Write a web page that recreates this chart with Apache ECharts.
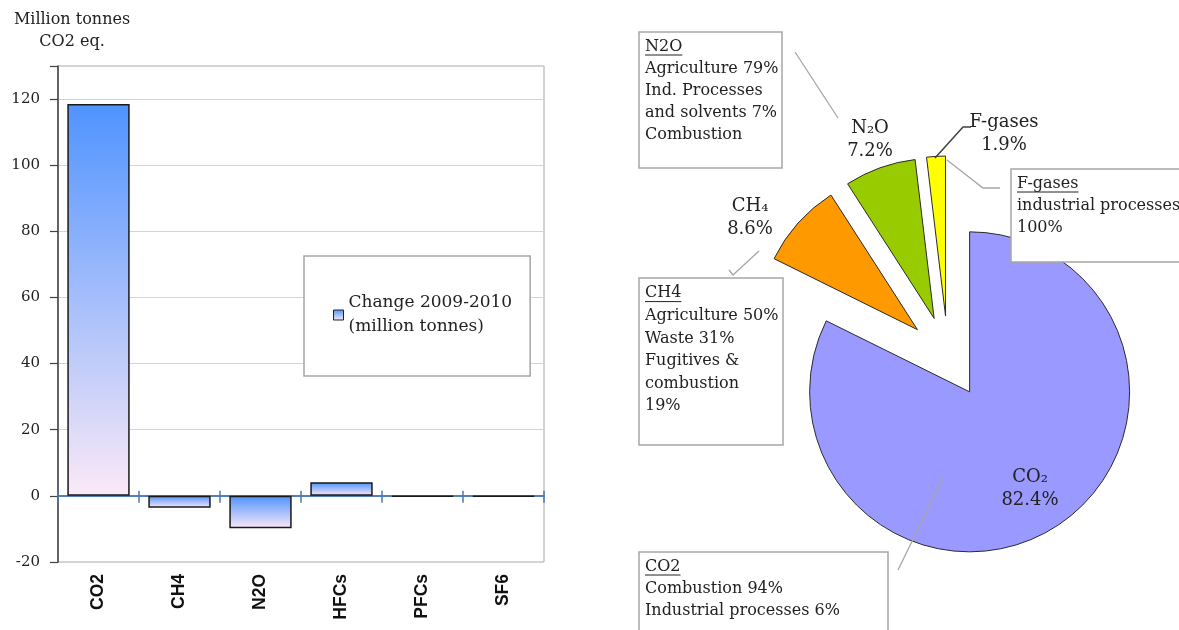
<!DOCTYPE html>
<html>
<head>
<meta charset="utf-8">
<script src="https://cdn.jsdelivr.net/npm/echarts@6/dist/echarts.min.js"></script>
<style>
html, body { margin: 0; padding: 0; background: #fff; }
#chart { width: 1179px; height: 630px; }
</style>
</head>
<body>
<div id="chart"></div>
<script>
// bar chart: change 2009-2010, million tonnes CO2 eq.
var gases = ['CO2', 'CH4', 'N2O', 'HFCs', 'PFCs', 'SF6'];
var change = [118.5, -3.6, -9.8, 4.1, -0.3, -0.3];
var yTicks = [-20, 0, 20, 40, 60, 80, 100, 120];
var yMin = -20, yMax = 130, yStep = 20;

// pie chart: share of total emissions
var pieNames = ['CO₂', 'CH₄', 'N₂O', 'F-gases'];
var pieShares = [82.4, 8.6, 7.2, 1.9];
var pieColors = ['#9999ff', '#ff9900', '#99cc00', '#ffff00'];

// text boxes next to the pie
var noteN2O = ['N2O', 'Agriculture 79%', 'Ind. Processes', 'and solvents 7%', 'Combustion'];
var noteCH4 = ['CH4', 'Agriculture 50%', 'Waste 31%', 'Fugitives &', 'combustion', '19%'];
var noteFgas = ['F-gases', 'industrial processes', '100%'];
var noteCO2 = ['CO2', 'Combustion 94%', 'Industrial processes 6%'];

var serif = 'DejaVu Serif';
var ink = '#222';
var boxLine = '#a6a6a6';

var chart = echarts.init(document.getElementById('chart'));

function textWidth(txt, size) {
    var ctx = document.createElement('canvas').getContext('2d');
    ctx.font = size + 'px "' + serif + '"';
    return ctx.measureText(txt).width;
}

function noteBox(lines, x, y, w, h, lh) {
    return [
        {type: 'rect', z: 20, shape: {x: x, y: y, width: w, height: h},
            style: {fill: '#fff', stroke: boxLine, lineWidth: 1.5}},
        {type: 'text', z: 21, x: x + 6, y: y + 4,
            style: {text: lines.join('\n'), fontFamily: serif, fontSize: 16, lineHeight: lh, fill: ink}},
        // underline of the box title
        {type: 'line', z: 21,
            shape: {x1: x + 6, y1: y + 4 + lh - 3, x2: x + 6 + textWidth(lines[0], 16), y2: y + 4 + lh - 3},
            style: {stroke: ink, lineWidth: 1}}
    ];
}

function leader(points, color, width) {
    return {type: 'polyline', z: 22, shape: {points: points},
        style: {stroke: color || boxLine, lineWidth: width || 1.3, fill: null}};
}

// pie labels (selected slices keep their own label position, so they are drawn here)
var pieLabelPos = [[1030, 489], [750, 218], [870, 140], [1004, 134]];
var pieLabels = pieNames.map(function (n, i) {
    return {type: 'text', z: 23, x: pieLabelPos[i][0], y: pieLabelPos[i][1],
        style: {text: n + '\n' + pieShares[i].toFixed(1) + '%', align: 'center', verticalAlign: 'middle',
            fontFamily: serif, fontSize: 18, lineHeight: 23, fill: ink}};
});

var barColor = new echarts.graphic.LinearGradient(0, 0, 0, 1, [
    {offset: 0, color: '#4f93ff'},
    {offset: 1, color: '#fbe9f7'}
]);

var yCommon = {type: 'value', min: yMin, max: yMax, interval: yStep};
var zeroLine = {color: '#4a7ab5', width: 1.5};

var option = {
    animation: false,
    grid: [
        {left: 58, top: 66, right: 635, bottom: 68, show: true, borderColor: '#a6a6a6', borderWidth: 1},
        {left: 58, top: 66, right: 635, bottom: 68}
    ],
    legend: {
        left: 304, top: 256,
        data: ['Change 2009-2010'],
        formatter: function (n) { return n + '\n(million tonnes)'; },
        backgroundColor: '#fff',
        borderColor: '#a6a6a6',
        borderWidth: 1.5,
        padding: [35, 18, 37, 29],
        icon: 'rect',
        itemWidth: 10,
        itemHeight: 10,
        itemStyle: {borderColor: ink, borderWidth: 1},
        textStyle: {fontFamily: serif, fontSize: 17, lineHeight: 24, color: ink}
    },
    xAxis: [
        {
            type: 'category', data: gases, gridIndex: 0, position: 'bottom',
            axisLine: {onZero: true, onZeroAxisIndex: 0, lineStyle: zeroLine},
            axisTick: {show: true, length: 7, lineStyle: zeroLine},
            axisLabel: {show: false}
        },
        {
            type: 'category', data: gases, gridIndex: 0, position: 'top',
            axisLine: {onZero: true, onZeroAxisIndex: 0, lineStyle: zeroLine},
            axisTick: {show: true, length: 5, lineStyle: zeroLine},
            axisLabel: {show: false}
        },
        {
            type: 'category', data: gases, gridIndex: 1, position: 'bottom',
            axisLine: {show: false, onZero: false},
            axisTick: {show: false},
            axisLabel: {rotate: 90, margin: 12, fontFamily: 'Liberation Sans', fontWeight: 'bold', fontSize: 17.5, color: '#111'}
        }
    ],
    yAxis: [
        Object.assign({}, yCommon, {
            gridIndex: 0,
            axisLine: {show: true, lineStyle: {color: '#404040', width: 1.5}},
            axisTick: {show: true, length: 8, lineStyle: {color: '#404040', width: 1.2}},
            axisLabel: {margin: 18, customValues: yTicks, fontFamily: serif, fontSize: 15, color: ink},
            splitLine: {show: true, lineStyle: {color: '#d4d4d4'}}
        }),
        Object.assign({}, yCommon, {
            gridIndex: 1,
            show: false
        })
    ],
    series: [
        {
            name: 'Change 2009-2010',
            type: 'bar',
            xAxisIndex: 0,
            yAxisIndex: 0,
            barWidth: '77%',
            data: change,
            itemStyle: {color: barColor, borderColor: '#1a1a1a', borderWidth: 1.5}
        },
        {
            type: 'pie',
            center: [948, 357],
            radius: [0, 160],
            selectedMode: 'multiple',
            selectedOffset: 41,
            emphasis: {disabled: true},
            itemStyle: {borderColor: '#2a2a2a', borderWidth: 1},
            label: {show: false},
            labelLine: {show: false},
            data: pieNames.map(function (n, i) {
                return {
                    name: n,
                    value: pieShares[i],
                    selected: true,
                    itemStyle: {color: pieColors[i]},
                    select: {itemStyle: {color: pieColors[i], borderColor: '#2a2a2a', borderWidth: 1}}
                };
            })
        }
    ],
    graphic: [
        {type: 'text', x: 72, y: 9, style: {text: 'Million tonnes\nCO2 eq.', fontFamily: serif, fontSize: 16,
            lineHeight: 22, fill: ink, align: 'center'}}
    ]
        .concat(noteBox(noteN2O, 639, 32, 143, 136, 22))
        .concat(noteBox(noteCH4, 639, 278, 144, 167, 22.6))
        .concat(noteBox(noteFgas, 1011, 169, 180, 93, 22))
        .concat(noteBox(noteCO2, 639, 552, 249, 100, 22))
        .concat([
            leader([[795, 52], [838, 118]]),
            leader([[729, 270], [733, 275], [759, 251]]),
            leader([[947, 160], [983, 188], [1000, 188]]),
            leader([[943, 478], [898, 570]]),
            leader([[935, 158], [963, 127], [971, 127]], '#404040', 1.5)
        ])
        .concat(pieLabels)
};

chart.setOption(option);
window.addEventListener('resize', function () {
    chart.resize();
});
</script>
</body>
</html>
